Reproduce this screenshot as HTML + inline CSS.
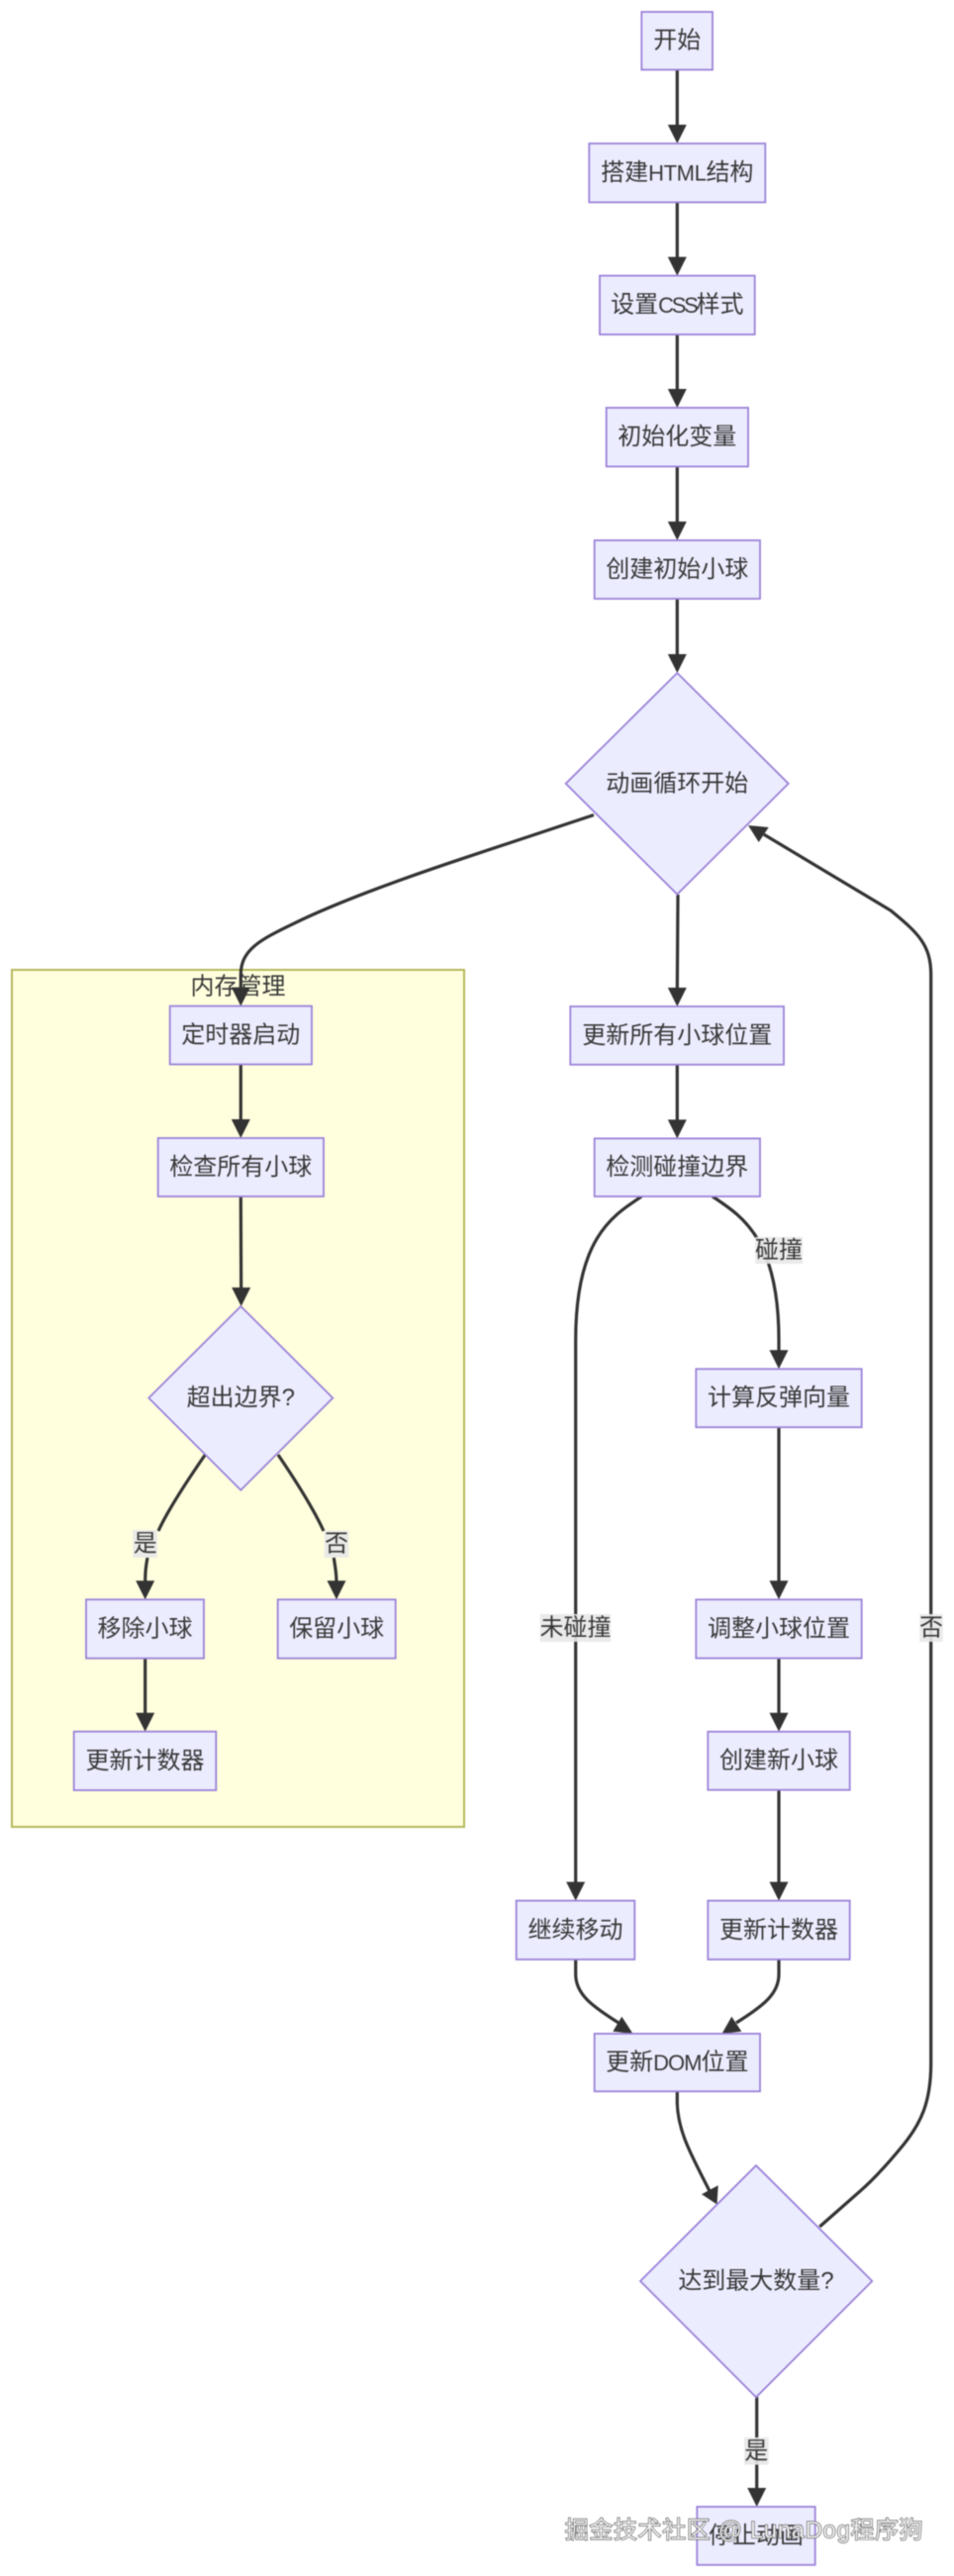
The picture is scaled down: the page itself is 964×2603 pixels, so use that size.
<!DOCTYPE html>
<html><head><meta charset="utf-8">
<style>
html,body{margin:0;padding:0;background:#fff;width:964px;height:2603px;overflow:hidden}
svg{display:block;filter:blur(.45px)}
text{font-family:"Liberation Sans","Noto Sans CJK SC",sans-serif;font-size:24px;fill:#383838;text-anchor:middle;dominant-baseline:central}
.n{fill:#ececff;stroke:#9b82d8;stroke-width:1.8}
.e{fill:none;stroke:#333;stroke-width:3.2}
.a{fill:#333;stroke:none}
.l{fill:#e8e8e8;opacity:.9}
.la{font-size:22px}
</style></head><body>
<svg width="964" height="2603" viewBox="0 0 964 2603" xmlns="http://www.w3.org/2000/svg">
<rect x="12" y="980" width="457" height="866" fill="#ffffde" stroke="#b4b85a" stroke-width="2"/>
<text x="240.500" y="997">内存管理</text>

<!-- edges -->
<g class="e">
<path d="M684.3 70V130"/>
<path d="M684.3 204V263"/>
<path d="M684.3 338V397"/>
<path d="M684.3 471V531"/>
<path d="M684.3 605V665"/>
<path d="M685 904L684.3 1002"/>
<path d="M684.3 1076V1135"/>
<path d="M600 823.500L470 866.700C400 890 340 912 296.700 933.300C262 950 243.300 960 243.300 985V1002"/>
<path d="M243.300 1076V1135"/>
<path d="M243.300 1209L243.700 1305"/>
<path d="M207.300 1470C190 1495 170 1525 160 1547"/>
<path d="M149 1574C147 1585 146.700 1590 146.700 1602"/>
<path d="M281 1470C298 1495 317 1525 327 1547"/>
<path d="M337.300 1574C339 1585 340 1590 340 1602"/>
<path d="M146.700 1676V1735"/>
<path d="M648.300 1209C620 1228 581.700 1250 581.700 1354V1906"/>
<path d="M720 1209C748 1228 787 1250 787 1354V1369"/>
<path d="M787 1442V1602"/>
<path d="M787 1676V1735"/>
<path d="M787 1809V1906"/>
<path d="M581.700 1980V1995C581.700 2015 598 2027 625 2044"/>
<path d="M787 1980V1995C787 2015 771 2027 744 2044"/>
<path d="M684.300 2113.300V2125C685 2155 700 2180 717 2214"/>
<path d="M828.300 2250L870 2213.300C885 2200 900 2183 913.300 2166.700C930 2146 940.700 2125 940.700 2085V985C940.700 955 928 943 900 920L772 843.300"/>
<path d="M764.700 2422V2518"/>
</g>

<!-- arrowheads -->
<g class="a">
<path d="M674.800 126H693.800L684.300 145Z"/>
<path d="M674.800 259.600H693.800L684.300 278.600Z"/>
<path d="M674.800 393H693.800L684.300 412Z"/>
<path d="M674.800 527H693.800L684.300 546Z"/>
<path d="M674.800 661H693.800L684.300 680Z"/>
<path d="M674.800 998H693.800L684.300 1017Z"/>
<path d="M674.800 1131.400H693.800L684.300 1150.400Z"/>
<path d="M233.800 997.600H252.800L243.300 1016.600Z"/>
<path d="M233.800 1131H252.800L243.300 1150Z"/>
<path d="M234.200 1301H253.200L243.700 1320Z"/>
<path d="M137.200 1597.300H156.200L146.700 1616.300Z"/>
<path d="M330.500 1597.300H349.500L340 1616.300Z"/>
<path d="M137.200 1730.700H156.200L146.700 1749.700Z"/>
<path d="M777.500 1364.300H796.500L787 1383.300Z"/>
<path d="M777.500 1597.300H796.500L787 1616.300Z"/>
<path d="M777.500 1730.800H796.500L787 1749.800Z"/>
<path d="M777.500 1901.600H796.500L787 1920.600Z"/>
<path d="M572.200 1901.600H591.200L581.700 1920.600Z"/>
<path d="M628.300 2037.700L619.300 2052.700L639.500 2055Z"/>
<path d="M739.300 2037.700L749.300 2052.700L729.500 2055Z"/>
<path d="M725.700 2208.300L709 2217.300L724.500 2227.500Z"/>
<path d="M756 834L776.700 836L766.700 851Z"/>
<path d="M755.200 2514H774.200L764.700 2533Z"/>
</g>

<!-- nodes -->
<g class="n">
<rect x="648.300" y="12" width="71.700" height="58.500"/>
<rect x="595.300" y="145" width="178" height="59.400"/>
<rect x="606" y="278.600" width="156.700" height="59.400"/>
<rect x="612.700" y="412" width="143.300" height="59.400"/>
<rect x="600.700" y="546" width="167.300" height="59"/>
<polygon points="684.300,680 796.700,791.800 684.300,903.700 571.700,791.800"/>
<rect x="576.300" y="1017" width="215.700" height="58.800"/>
<rect x="600.700" y="1150.400" width="167.300" height="58.600"/>
<rect x="171.700" y="1016.600" width="143.300" height="58.900"/>
<rect x="159.700" y="1150" width="167.300" height="59"/>
<polygon points="243.300,1320 336.300,1412.600 243.300,1505.700 150.300,1412.600"/>
<rect x="87" y="1616.300" width="119" height="59.400"/>
<rect x="280.700" y="1616.300" width="119" height="59.400"/>
<rect x="74.700" y="1749.700" width="143.600" height="59.300"/>
<rect x="703.300" y="1383.300" width="167.400" height="58.900"/>
<rect x="703.300" y="1616.300" width="167.400" height="59.300"/>
<rect x="715.300" y="1749.800" width="143.400" height="58.900"/>
<rect x="715.300" y="1920.600" width="143.400" height="59.400"/>
<rect x="521.700" y="1920.600" width="119.600" height="59.400"/>
<rect x="600.700" y="2055" width="167.300" height="58.300"/>
<polygon points="764,2188.200 881.300,2305 764,2422.300 647,2305"/>
<rect x="704.300" y="2533" width="119.400" height="58.800"/>
</g>

<!-- edge labels -->
<rect class="l" x="763.300" y="1250" width="47.700" height="27"/>
<rect class="l" x="545.700" y="1631" width="71.600" height="28"/>
<rect class="l" x="929.300" y="1631" width="23.400" height="28"/>
<rect class="l" x="134.300" y="1546" width="24.700" height="28"/>
<rect class="l" x="327.700" y="1546.700" width="24.600" height="27.300"/>
<rect class="l" x="752" y="2463" width="24.700" height="27.600"/>
<text x="787" y="1263.500">碰撞</text>
<text x="581.500" y="1645">未碰撞</text>
<text x="941" y="1645">否</text>
<text x="146.700" y="1560">是</text>
<text x="340" y="1560">否</text>
<text x="764.300" y="2477">是</text>

<!-- node labels -->
<text x="684.300" y="41">开始</text>
<text x="684.300" y="174.500">搭建<tspan class="la" letter-spacing="-.4">HTML</tspan>结构</text>
<text x="684.300" y="308">设置<tspan class="la" letter-spacing="-2.300">CSS</tspan>样式</text>
<text x="684.300" y="441.500">初始化变量</text>
<text x="684.300" y="575.500">创建初始小球</text>
<text x="684.300" y="792">动画循环开始</text>
<text x="684.300" y="1046.500">更新所有小球位置</text>
<text x="684.300" y="1179.500">检测碰撞边界</text>
<text x="243.300" y="1046">定时器启动</text>
<text x="243.300" y="1179.500">检查所有小球</text>
<text x="243.300" y="1412.500">超出边界?</text>
<text x="146.500" y="1646">移除小球</text>
<text x="340.200" y="1646">保留小球</text>
<text x="146.500" y="1779.500">更新计数器</text>
<text x="787" y="1412.500">计算反弹向量</text>
<text x="787" y="1646">调整小球位置</text>
<text x="787" y="1779">创建新小球</text>
<text x="787" y="1950.500">更新计数器</text>
<text x="581.500" y="1950.500">继续移动</text>
<text x="684.300" y="2084">更新<tspan class="la" letter-spacing="-1">DOM</tspan>位置</text>
<text x="764" y="2305">达到最大数量?</text>
<text x="764" y="2562.500">停止动画</text>

<!-- watermark -->
<text x="752" y="2557" style="fill:#eee;stroke:#555;stroke-width:1.2;paint-order:stroke;letter-spacing:.6px" xml:space="preserve">掘金技术社区 @ LunaDog程序狗</text>
</svg>
</body></html>
